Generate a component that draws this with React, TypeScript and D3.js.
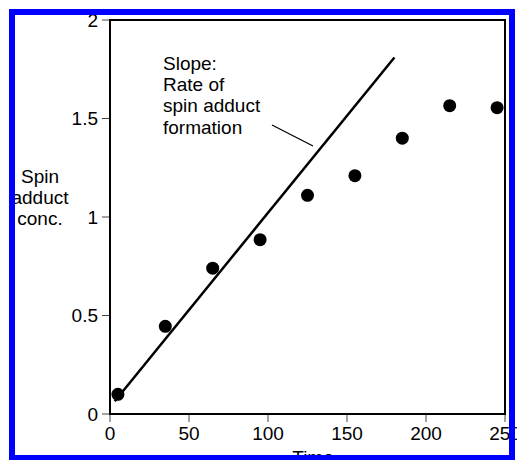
import React from "react";
import * as d3 from "d3";

// Measured spin adduct concentration over time
const times = [5, 35, 65, 95, 125, 155, 185, 215, 245];
const concs = [0.1, 0.445, 0.74, 0.885, 1.11, 1.21, 1.4, 1.565, 1.555];

// Initial-rate fit line endpoints (time, conc)
const fitTimes = [3, 180];
const fitConcs = [0.065, 1.81];

const xTicks = [0, 50, 100, 150, 200, 250];
const yTicks = [0, 0.5, 1, 1.5, 2];
const yTickLabels = ["0", "0.5", "1", "1.5", "2"];

const annotationLines = ["Slope:", "Rate of", "spin adduct", "formation"];
const yLabelLines = ["Spin", "adduct", "conc."];

const W = 517;
const H = 460;
const plot = { left: 110, right: 505, top: 20, bottom: 414 };
const font = "'Liberation Sans', Arial, Helvetica, sans-serif";

export default function App() {
  const x = d3.scaleLinear().domain([0, 250]).range([plot.left, plot.right]);
  const y = d3.scaleLinear().domain([0, 2]).range([plot.bottom, plot.top]);

  const fitLine = d3
    .line<number>()
    .x((_, i) => x(fitTimes[i]))
    .y((d) => y(d));

  return (
    <svg
      width={W}
      height={H}
      style={{ position: "fixed", left: 0, top: 0, background: "#fff" }}
      fontFamily={font}
    >
      <rect x={0} y={0} width={W} height={H} fill="#fff" />

      {/* y ticks and labels */}
      {yTicks.map((t, i) => (
        <g key={"y" + t}>
          <line x1={plot.left - 8} x2={plot.left} y1={y(t)} y2={y(t)} stroke="#444" strokeWidth={1} />
          <text x={plot.left - 12} y={y(t)} dy="0.35em" textAnchor="end" fontSize={19} fill="#000">
            {yTickLabels[i]}
          </text>
        </g>
      ))}

      {/* x ticks and labels */}
      {xTicks.map((t) => (
        <g key={"x" + t}>
          <line x1={x(t)} x2={x(t)} y1={plot.bottom} y2={plot.bottom + 8} stroke="#444" strokeWidth={1} />
          <text x={x(t)} y={440} textAnchor="middle" fontSize={19} fill="#000">
            {t}
          </text>
        </g>
      ))}

      {/* plot frame */}
      <rect
        x={plot.left}
        y={plot.top}
        width={plot.right - plot.left}
        height={plot.bottom - plot.top}
        fill="none"
        stroke="#000"
        strokeWidth={2}
      />

      {/* fit line */}
      <path d={fitLine(fitConcs) || ""} fill="none" stroke="#000" strokeWidth={2.5} />

      {/* data points */}
      {times.map((t, i) => (
        <circle key={t} cx={x(t)} cy={y(concs[i])} r={6.5} fill="#000" />
      ))}

      {/* annotation */}
      {annotationLines.map((s, i) => (
        <text key={s} x={163} y={70 + i * 21.2} fontSize={19} fill="#000">
          {s}
        </text>
      ))}
      <line x1={272} y1={125} x2={313} y2={146} stroke="#000" strokeWidth={1.3} />

      {/* axis titles */}
      {yLabelLines.map((s, i) => (
        <text key={s} x={40} y={183 + i * 21.2} textAnchor="middle" fontSize={19} fill="#000">
          {s}
        </text>
      ))}
      <text x={313} y={464} textAnchor="middle" fontSize={19} fill="#000">
        Time
      </text>

      {/* outer border */}
      <rect x={12} y={12} width={500} height={446} fill="none" stroke="#0000ff" strokeWidth={6} />
    </svg>
  );
}
